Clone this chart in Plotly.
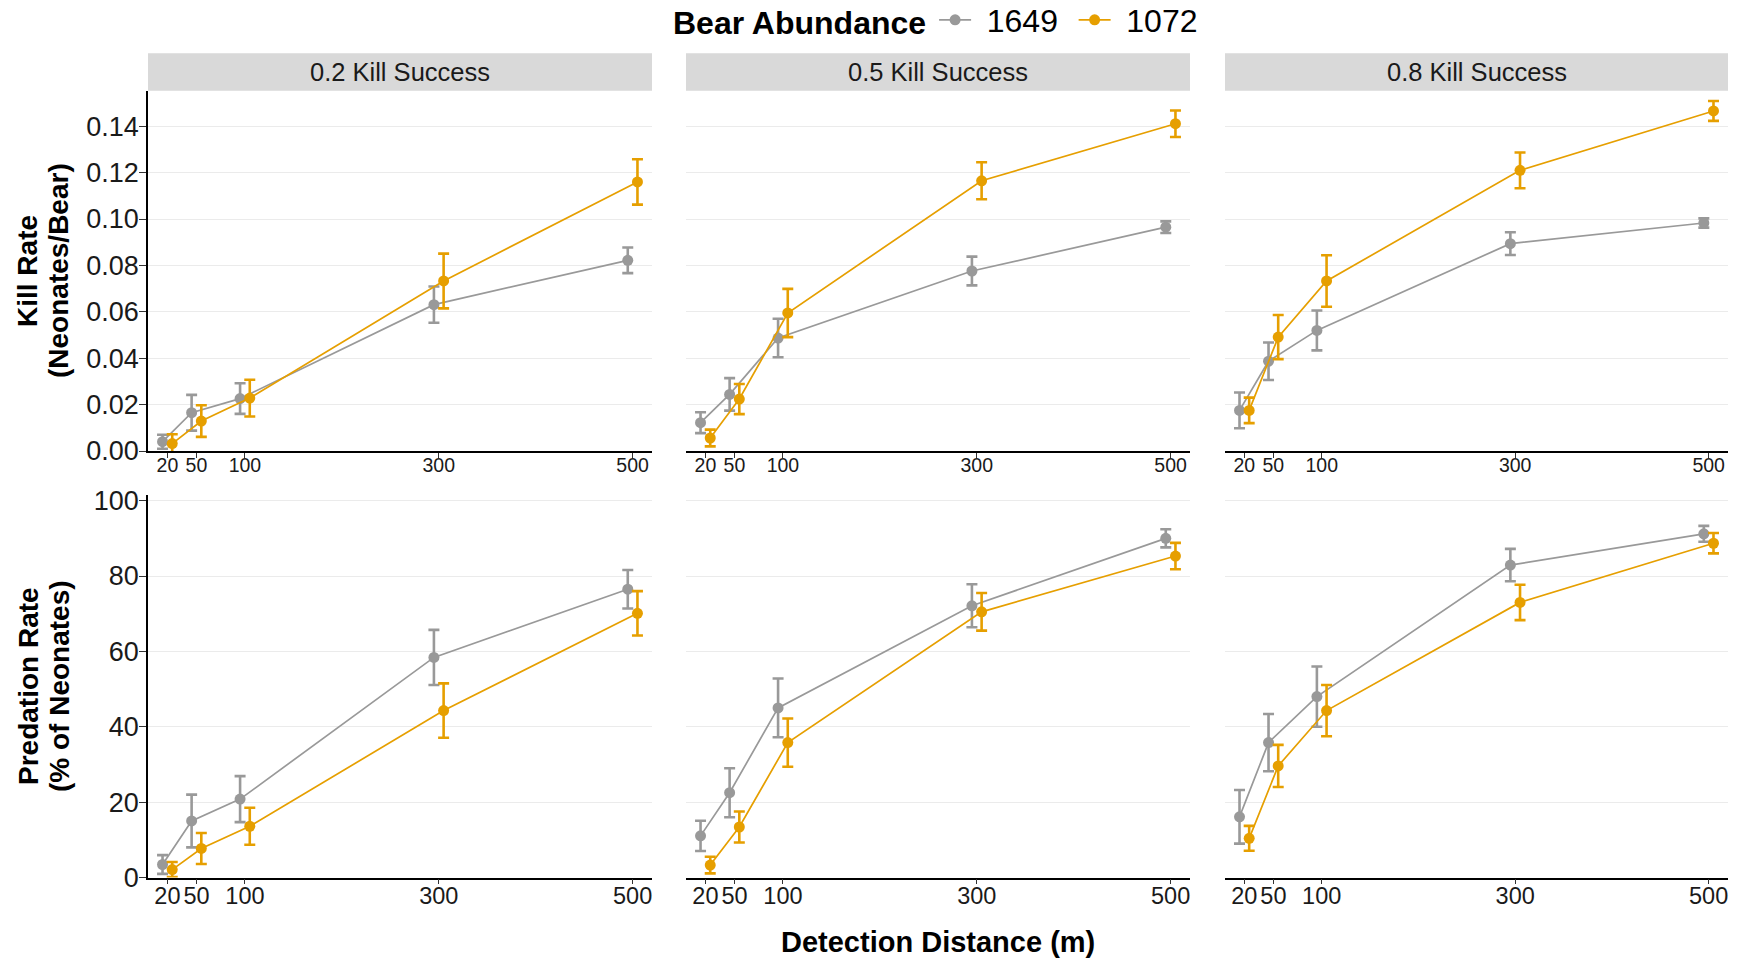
import plotly.graph_objects as go

# ---------------- data ----------------
distances = [20, 50, 100, 300, 500]
panel_titles = ["0.2 Kill Success", "0.5 Kill Success", "0.8 Kill Success"]
abundance_labels = ["1649", "1072"]

kill_1649_02 = [0.0040, 0.0165, 0.0226, 0.0631, 0.0822]
kill_1649_05 = [0.0122, 0.0244, 0.0487, 0.0776, 0.0965]
kill_1649_08 = [0.0175, 0.0387, 0.0520, 0.0894, 0.0983]
kill_1649_se_02 = [0.0030, 0.0077, 0.0066, 0.0078, 0.0055]
kill_1649_se_05 = [0.0045, 0.0070, 0.0083, 0.0062, 0.0025]
kill_1649_se_08 = [0.0077, 0.0081, 0.0086, 0.0049, 0.0020]

kill_1072_02 = [0.0032, 0.0129, 0.0228, 0.0733, 0.1160]
kill_1072_05 = [0.0056, 0.0224, 0.0595, 0.1165, 0.1411]
kill_1072_08 = [0.0175, 0.0491, 0.0733, 0.1210, 0.1466]
kill_1072_se_02 = [0.0040, 0.0068, 0.0079, 0.0118, 0.0098]
kill_1072_se_05 = [0.0036, 0.0065, 0.0104, 0.0080, 0.0057]
kill_1072_se_08 = [0.0055, 0.0095, 0.0111, 0.0077, 0.0043]

pred_1649_02 = [3.45, 15.0, 20.8, 58.4, 76.5]
pred_1649_05 = [11.05, 22.5, 45.0, 72.1, 90.0]
pred_1649_08 = [16.1, 35.8, 48.0, 82.9, 91.2]
pred_1649_se_02 = [2.5, 7.0, 6.1, 7.3, 5.1]
pred_1649_se_05 = [4.0, 6.5, 7.8, 5.7, 2.4]
pred_1649_se_08 = [7.1, 7.6, 8.0, 4.3, 2.1]

pred_1072_02 = [2.1, 7.7, 13.6, 44.3, 70.1]
pred_1072_05 = [3.3, 13.4, 35.8, 70.5, 85.3]
pred_1072_08 = [10.4, 29.6, 44.3, 73.0, 88.7]
pred_1072_se_02 = [2.0, 4.1, 4.9, 7.2, 5.9]
pred_1072_se_05 = [2.2, 4.1, 6.4, 5.0, 3.5]
pred_1072_se_08 = [3.3, 5.6, 6.8, 4.7, 2.7]

kill_ticks = [0, 0.02, 0.04, 0.06, 0.08, 0.10, 0.12, 0.14]
pred_ticks = [0, 20, 40, 60, 80, 100]

# ---------------- style ----------------
W, H = 1740, 958
FONT = "Liberation Sans, Arial, sans-serif"
GRAY = "#999999"
ORANGE = "#E69F00"
colors = [GRAY, ORANGE]
DODGE = 5  # x offset between the two groups (position_dodge)
SP = "\u2004"  # spacing used in legend labels

col_px = [(148, 652), (686, 1190), (1225, 1728)]
row_px = [(91, 451), (495, 877.5)]  # top, bottom in pixels from top
STRIP = (53.3, 90.7)


def px_x(p):
    return p / W


def px_y(p):
    return 1 - p / H


series = {
    (0, 0): (kill_1649_02, kill_1649_se_02, kill_1072_02, kill_1072_se_02),
    (0, 1): (kill_1649_05, kill_1649_se_05, kill_1072_05, kill_1072_se_05),
    (0, 2): (kill_1649_08, kill_1649_se_08, kill_1072_08, kill_1072_se_08),
    (1, 0): (pred_1649_02, pred_1649_se_02, pred_1072_02, pred_1072_se_02),
    (1, 1): (pred_1649_05, pred_1649_se_05, pred_1072_05, pred_1072_se_05),
    (1, 2): (pred_1649_08, pred_1649_se_08, pred_1072_08, pred_1072_se_08),
}

fig = go.Figure()
layout = {}

for r in range(2):
    for c in range(3):
        idx = r * 3 + c + 1
        sfx = "" if idx == 1 else str(idx)
        xa, ya = "x" + sfx, "y" + sfx
        v1, e1, v2, e2 = series[(r, c)]
        for g, (vals, errs) in enumerate([(v1, e1), (v2, e2)]):
            offset = -DODGE if g == 0 else DODGE
            fig.add_trace(go.Scatter(
                x=[d + offset for d in distances], y=vals,
                mode="lines+markers",
                name=SP + abundance_labels[g] + SP,
                legendgroup=abundance_labels[g],
                showlegend=(idx == 1),
                line=dict(color=colors[g], width=1.7),
                marker=dict(color=colors[g], size=11),
                error_y=dict(type="data", array=errs, visible=True,
                             color=colors[g], thickness=2.6, width=5.5),
                xaxis=xa, yaxis=ya,
            ))
        x0, x1 = col_px[c]
        y_top, y_bot = row_px[r]
        layout["xaxis" + sfx] = dict(
            domain=[px_x(x0), px_x(x1)], anchor=ya, automargin=False,
            range=[0, 520], tickmode="array", tickvals=distances,
            ticktext=[str(d) for d in distances],
            showgrid=False, zeroline=False,
            showline=True, linecolor="black", linewidth=1.6,
            ticks="outside", ticklen=5, tickwidth=1.4, tickcolor="#333333",
            tickangle=0, ticklabelstandoff=-9,
            tickfont=dict(size=19.5 if r == 0 else 23.5, color="#1a1a1a", family=FONT),
        )
        if r == 0:
            yrange, yt, fmt = [0, 0.1552], kill_ticks, ".2f"
        else:
            yrange, yt, fmt = [0, 101.5], pred_ticks, "d"
        layout["yaxis" + sfx] = dict(
            domain=[px_y(y_bot), px_y(y_top)], anchor=xa, automargin=False,
            range=yrange, tickmode="array", tickvals=yt, tickformat=fmt,
            showgrid=True, gridcolor="#EBEBEB", gridwidth=1.3,
            zeroline=False,
            showline=(c == 0), linecolor="black", linewidth=1.6,
            ticks="outside" if c == 0 else "", ticklen=7, tickwidth=1.4,
            tickcolor="#333333", ticklabelstandoff=-5,
            showticklabels=(c == 0),
            tickfont=dict(size=27, color="#1a1a1a", family=FONT),
        )

shapes = []
annotations = []
for c in range(3):
    x0, x1 = col_px[c]
    shapes.append(dict(type="rect", xref="paper", yref="paper",
                       x0=px_x(x0), x1=px_x(x1),
                       y0=px_y(STRIP[1]), y1=px_y(STRIP[0]),
                       fillcolor="#D9D9D9", line=dict(width=0), layer="below"))
    annotations.append(dict(text=panel_titles[c], xref="paper", yref="paper",
                            x=px_x((x0 + x1) / 2), y=px_y((STRIP[0] + STRIP[1]) / 2),
                            xanchor="center", yanchor="middle", showarrow=False,
                            font=dict(size=25.5, color="#1a1a1a", family=FONT)))

# y-axis titles (two lines each)
ytitles = [("Kill Rate", "(Neonates/Bear)", 271), ("Predation Rate", "(% of Neonates)", 686)]
for l1, l2, yc in ytitles:
    for txt, xc in [(l1, 28), (l2, 59)]:
        annotations.append(dict(text="<b>" + txt + "</b>", xref="paper", yref="paper",
                                x=px_x(xc), y=px_y(yc), xanchor="center", yanchor="middle",
                                textangle=-90, showarrow=False,
                                font=dict(size=28, color="black", family=FONT)))

annotations.append(dict(text="<b>Detection Distance (m)</b>", xref="paper", yref="paper",
                        x=px_x(938), y=px_y(942), xanchor="center", yanchor="middle",
                        showarrow=False, font=dict(size=29, color="black", family=FONT)))

fig.update_layout(
    **layout,
    width=W, height=H,
    margin=dict(l=0, r=0, t=0, b=0, autoexpand=False),
    paper_bgcolor="white", plot_bgcolor="white",
    font=dict(family=FONT, color="black"),
    shapes=shapes, annotations=annotations,
    legend=dict(orientation="h", xref="container", yref="container",
                x=px_x(671), xanchor="left",
                y=px_y(20), yanchor="middle",
                title=dict(text="<b>Bear Abundance</b>", font=dict(size=32, family=FONT)),
                font=dict(size=32, family=FONT, color="black"),
                itemwidth=32, bgcolor="rgba(0,0,0,0)"),
)

fig.write_html("out.html")
